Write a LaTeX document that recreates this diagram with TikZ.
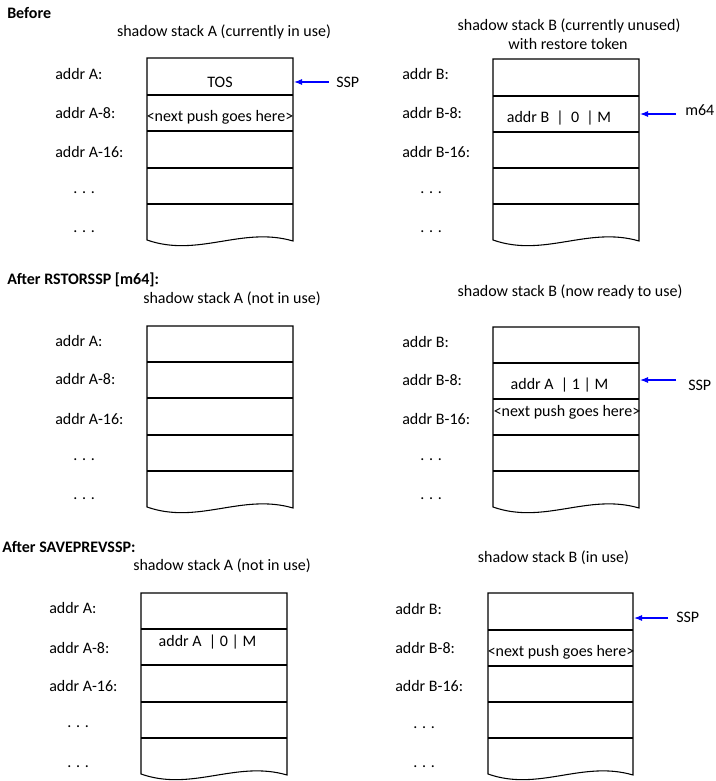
\documentclass[tikz,border=0pt]{standalone}
\usepackage{fontspec}
\setmainfont{Carlito}
\usetikzlibrary{arrows.meta}
\tikzset{
 stackline/.style={draw=black, line width=0.8pt},
 lbl/.style={anchor=west, inner sep=0pt, font=\fontsize{12}{14}\selectfont},
 ctxt/.style={anchor=center, inner sep=0pt, font=\fontsize{12}{14}\selectfont},
 head/.style={anchor=west, inner sep=0pt, font=\fontsize{12}{14}\selectfont\bfseries},
 ptr/.style={draw=blue, line width=0.8pt, -{Latex[length=6pt,width=4.5pt]}},
}
\newcommand{\drawstack}[8]{%
  \draw[stackline] (#1,#3) -- (#2,#3) -- (#2,{#8+1}) .. controls ({#1+0.65*(#2-#1)},{#8-14}) and ({#1+0.35*(#2-#1)},{#8+18}) .. (#1,#8) -- cycle;
  \foreach \yy in {#4,#5,#6,#7} \draw[stackline] (#1,\yy) -- (#2,\yy);
}
\begin{document}
\begin{tikzpicture}[x=0.75pt,y=-0.75pt]
\useasboundingbox (0,0) rectangle (715,781);
% ---------- Panel 1 ----------
\node[head] (h1) at (7,13) {Before};
\node[ctxt] (tA1) at (224,32) {shadow stack A (currently in use)};
\drawstack{147}{293}{58}{95}{131}{168}{204}{240}
\node[lbl] (A1a) at (55,74) {addr A:};
\node[lbl] (A1b) at (55,113) {addr A-8:};
\node[lbl] (A1c) at (55,152) {addr A-16:};
\node[lbl] (A1d) at (73,193) {. . .};
\node[lbl] (A1e) at (73,232) {. . .};
\node[ctxt] (A1tos) at (220,82) {TOS};
\node[ctxt] (A1np) at (220,117) {<next push goes here>};
\node[lbl] (A1ssp) at (336,82) {SSP};
\coordinate (A1tail) at (329,82);
\coordinate (A1tip) at (294,82);
\draw[ptr] (A1tail) -- (A1tip);

\node[ctxt] (tB1a) at (569,26) {shadow stack B (currently unused)};
\node[ctxt] (tB1b) at (568,44) {with restore token};
\drawstack{493}{639}{59}{96}{132}{168}{204}{240}
\node[lbl] (B1a) at (402,74) {addr B:};
\node[lbl] (B1b) at (402,113) {addr B-8:};
\node[lbl] (B1c) at (402,152) {addr B-16:};
\node[lbl] (B1d) at (420,193) {. . .};
\node[lbl] (B1e) at (420,232) {. . .};
\node[ctxt] (B1tok) at (559,118) {addr B~~|~~0~~|~M};
\node[lbl] (B1m) at (685,110) {m64};
\coordinate (B1tail) at (676,114);
\coordinate (B1tip) at (640,114);
\draw[ptr] (B1tail) -- (B1tip);

% ---------- Panel 2 ----------
\node[head] (h2) at (7,280) {After RSTORSSP [m64]:};
\node[ctxt] (tA2) at (232,299) {shadow stack A (not in use)};
\drawstack{147}{293}{326}{362}{398}{435}{471}{507}
\node[lbl] (A2a) at (55,341) {addr A:};
\node[lbl] (A2b) at (55,379) {addr A-8:};
\node[lbl] (A2c) at (55,419) {addr A-16:};
\node[lbl] (A2d) at (73,460) {. . .};
\node[lbl] (A2e) at (73,499) {. . .};

\node[ctxt] (tB2) at (570,292) {shadow stack B (now ready to use)};
\drawstack{493}{639}{327}{363}{399}{435}{471}{507}
\node[lbl] (B2a) at (402,342) {addr B:};
\node[lbl] (B2b) at (402,380) {addr B-8:};
\node[lbl] (B2c) at (402,419) {addr B-16:};
\node[lbl] (B2d) at (420,460) {. . .};
\node[lbl] (B2e) at (420,499) {. . .};
\node[ctxt] (B2tok) at (559.5,385) {addr A~~| 1 | M};
\node[ctxt] (B2np) at (567,412) {<next push goes here>};
\node[lbl] (B2ssp) at (688,385) {SSP};
\coordinate (B2tail) at (676,380);
\coordinate (B2tip) at (640,380);
\draw[ptr] (B2tail) -- (B2tip);

% ---------- Panel 3 ----------
\node[head] (h3) at (2,547) {After SAVEPREVSSP:};
\node[ctxt] (tA3) at (222,566) {shadow stack A (not in use)};
\drawstack{141}{287}{593}{629}{665}{702}{738}{774}
\node[lbl] (A3a) at (49,608.5) {addr A:};
\node[lbl] (A3b) at (49,647.5) {addr A-8:};
\node[lbl] (A3c) at (49,685.5) {addr A-16:};
\node[lbl] (A3d) at (67,727) {. . .};
\node[lbl] (A3e) at (67,767) {. . .};
\node[ctxt] (A3tok) at (207.5,642.5) {addr A~~| 0 | M};

\node[ctxt] (tB3) at (553.5,558) {shadow stack B (in use)};
\drawstack{488}{633}{593}{630}{666}{702}{738}{774}
\node[lbl] (B3a) at (395,609) {addr B:};
\node[lbl] (B3b) at (395,648) {addr B-8:};
\node[lbl] (B3c) at (395,686) {addr B-16:};
\node[lbl] (B3d) at (413,728) {. . .};
\node[lbl] (B3e) at (413,767) {. . .};
\node[ctxt] (B3np) at (561,652) {<next push goes here>};
\node[lbl] (B3ssp) at (676,617.5) {SSP};
\coordinate (B3tail) at (668,618);
\coordinate (B3tip) at (634,618);
\draw[ptr] (B3tail) -- (B3tip);
\end{tikzpicture}
\end{document}
